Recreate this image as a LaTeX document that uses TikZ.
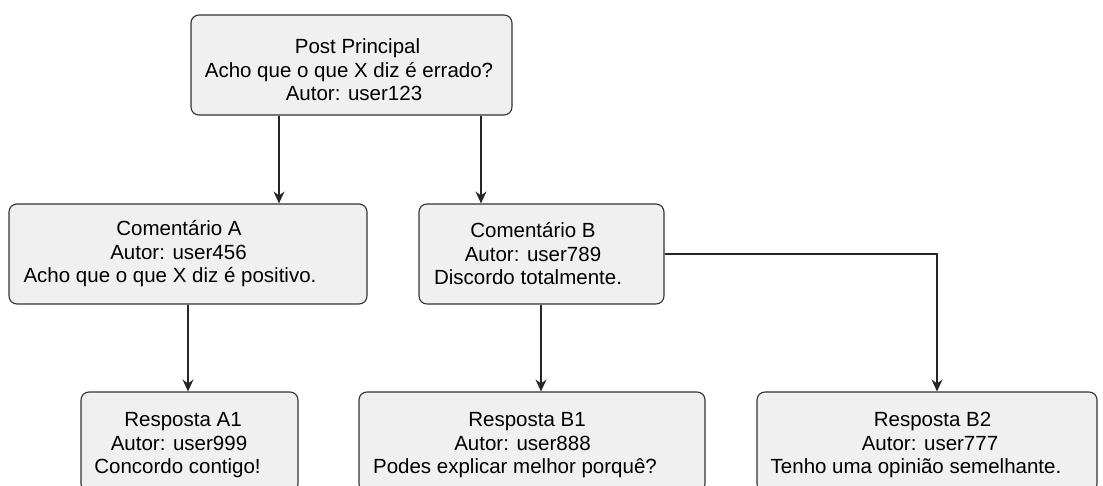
\documentclass[tikz,border=0pt]{standalone}
\usepackage{fontspec}
\setmainfont{Liberation Sans}
\usetikzlibrary{arrows.meta}
\definecolor{boxfill}{RGB}{240,240,240}
\definecolor{boxline}{RGB}{51,51,51}
\newcommand{\R}[1]{\kern#1pt}
\begin{document}
\begin{tikzpicture}[x=1pt,y=-1pt,
  card/.style={draw=boxline, fill=boxfill, line width=1.1pt, rounded corners=8pt,
    align=center, inner sep=0pt, font=\fontsize{20.5}{23.5}\selectfont, text=black,
    minimum height=100pt},
  link/.style={draw=black!85, line width=1.2pt,
    -{Stealth[length=12pt,width=11pt,inset=4pt]}}]
\useasboundingbox (0,0) rectangle (1103,486);
\clip (0,0) rectangle (1103,486);
\node[card, minimum width=321pt] (post) at (351.5,65)
  {\rule{0pt}{25pt}\R{12}Post Principal\\Acho que o que X diz é errado?\R{5}\\\R{5}Autor: user123};
\node[card, minimum width=358pt] (ca) at (188,254)
  {Comentário A\R{18}\\Autor: user456\R{19}\\Acho que o que X diz é positivo.\R{36}};
\node[card, minimum width=245pt] (cb) at (541.5,254)
  {Comentário B\R{17}\\Autor: user789\R{17}\\Discordo totalmente.\R{27}};
\node[card, minimum width=217pt] (ra1) at (189.5,442)
  {\rule{0pt}{21pt}Resposta A1\R{13}\\Autor: user999\R{21}\\Concordo contigo!\R{24}};
\node[card, minimum width=346pt] (rb1) at (532,442)
  {\rule{0pt}{21pt}Resposta B1\R{10}\\Autor: user888\R{19}\\Podes explicar melhor porquê?\R{34}};
\node[card, minimum width=340pt] (rb2) at (927,442)
  {\rule{0pt}{21pt}\R{11}Resposta B2\\\R{6}Autor: user777\\Tenho uma opinião semelhante.\R{22}};
\coordinate (kB2) at (937,254);
\draw[link] (post.south -| 279,0) -- (ca.north -| 279,0);
\draw[link] (post.south -| 481,0) -- (cb.north -| 481,0);
\draw[link] (ca.south) -- (ra1.north -| ca.south);
\draw[link] (cb.south -| 541,0) -- (rb1.north -| 541,0);
\draw[link] (cb.east) -- (kB2) -- (rb2.north -| kB2);
\end{tikzpicture}
\end{document}
